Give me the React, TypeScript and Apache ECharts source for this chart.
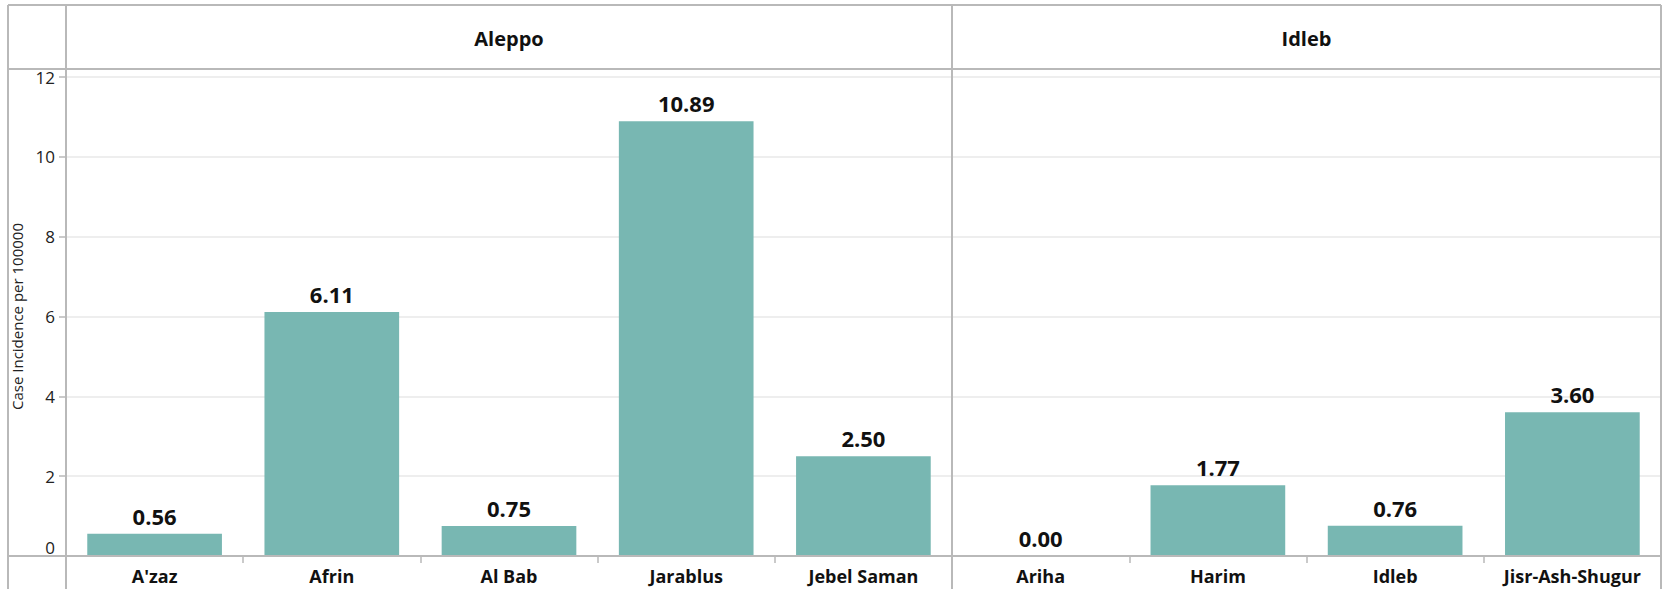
import React, { useEffect, useRef } from "react";
import * as echarts from "echarts";

const governorates = ["Aleppo", "Idleb"];
const aleppoDistricts = ["A'zaz", "Afrin", "Al Bab", "Jarablus", "Jebel Saman"];
const aleppoValues = [0.56, 6.11, 0.75, 10.89, 2.5];
const idlebDistricts = ["Ariha", "Harim", "Idleb", "Jisr-Ash-Shugur"];
const idlebValues = [0.0, 1.77, 0.76, 3.6];
const yTicks = { min: 0, max: 12, interval: 2 };
const yTitle = "Case Incidence per 100000";

const FONT = "'Open Sans', 'Noto Sans', sans-serif";
const FRAME = "#b9b9b9";
const BAR = "#78b7b2";

export default function App() {
  const ref = useRef<HTMLDivElement>(null);
  useEffect(() => {
    if (!ref.current) return;
    const chart = echarts.init(ref.current, null, { renderer: "svg" });
    const H = 589;
    const L0 = 8, L1 = 66, MID = 952, R = 1661;
    const TOP = 5, HEAD = 69, PT = 77, PB = 556;

    const makeX = (gi: number, cats: string[]) => ({
      type: "category",
      gridIndex: gi,
      data: cats,
      axisLine: { show: false },
      axisTick: { show: true, length: 7, lineStyle: { color: FRAME, width: 1.5 } },
      axisLabel: {
        interval: 0,
        margin: 11,
        fontFamily: FONT,
        fontWeight: "bold",
        fontSize: 18,
        color: "#111",
      },
    });
    const makeY = (gi: number, showLabels: boolean) => ({
      type: "value",
      gridIndex: gi,
      min: yTicks.min,
      max: yTicks.max,
      interval: yTicks.interval,
      name: showLabels ? yTitle : "",
      nameLocation: "middle",
      nameGap: 31,
      nameTextStyle: { fontFamily: FONT, fontSize: 15, color: "#222" },
      axisLine: { show: false },
      axisTick: { show: showLabels, length: 7, lineStyle: { color: FRAME, width: 1.5 } },
      axisLabel: {
        show: showLabels,
        margin: 11,
        fontFamily: FONT,
        fontSize: 17,
        color: "#222",
        formatter: (v: number) => (v === 0 ? "{z|0}" : String(v)),
        rich: { z: { fontFamily: FONT, fontSize: 17, color: "#222", padding: [0, 0, 18, 0] } },
      },
      splitLine: { show: true, lineStyle: { color: "#e9e9e9", width: 1.5 } },
    });
    const makeSeries = (gi: number, vals: number[]) => ({
      type: "bar",
      xAxisIndex: gi,
      yAxisIndex: gi,
      data: vals,
      barCategoryGap: "24%",
      itemStyle: { color: BAR },
      label: {
        show: true,
        position: "top",
        distance: 7,
        fontFamily: FONT,
        fontWeight: "bold",
        fontSize: 22,
        color: "#111",
        formatter: (p: any) => Number(p.value).toFixed(2),
      },
    });

    const line = (x1: number, y1: number, x2: number, y2: number) => ({
      type: "line",
      shape: { x1, y1, x2, y2 },
      style: { stroke: FRAME, lineWidth: 2 },
      z: 10,
    });
    const header = (text: string, x: number) => ({
      type: "text",
      x,
      y: (TOP + HEAD) / 2 + 1,
      style: {
        text,
        align: "center",
        verticalAlign: "middle",
        fontFamily: FONT,
        fontWeight: "bold",
        fontSize: 20,
        fill: "#111",
      },
    });

    chart.setOption({
      animation: false,
      backgroundColor: "#fff",
      grid: [
        { left: L1, top: PT, width: MID - L1, height: PB - PT },
        { left: MID, top: PT, width: R - MID, height: PB - PT },
      ],
      xAxis: [makeX(0, aleppoDistricts), makeX(1, idlebDistricts)],
      yAxis: [makeY(0, true), makeY(1, false)],
      series: [makeSeries(0, aleppoValues), makeSeries(1, idlebValues)],
      graphic: [
        line(L0, TOP, R, TOP),
        line(L0, HEAD, R, HEAD),
        line(L0, PB, R, PB),
        line(L0, TOP, L0, H),
        line(L1, TOP, L1, H),
        line(MID, TOP, MID, H),
        line(R, TOP, R, H),
        header(governorates[0], (L1 + MID) / 2),
        header(governorates[1], (MID + R) / 2),
      ],
    });
    return () => chart.dispose();
  }, []);
  return (
    <div
      ref={ref}
      style={{ position: "absolute", left: 0, top: 0, width: 1663, height: 589 }}
    />
  );
}
